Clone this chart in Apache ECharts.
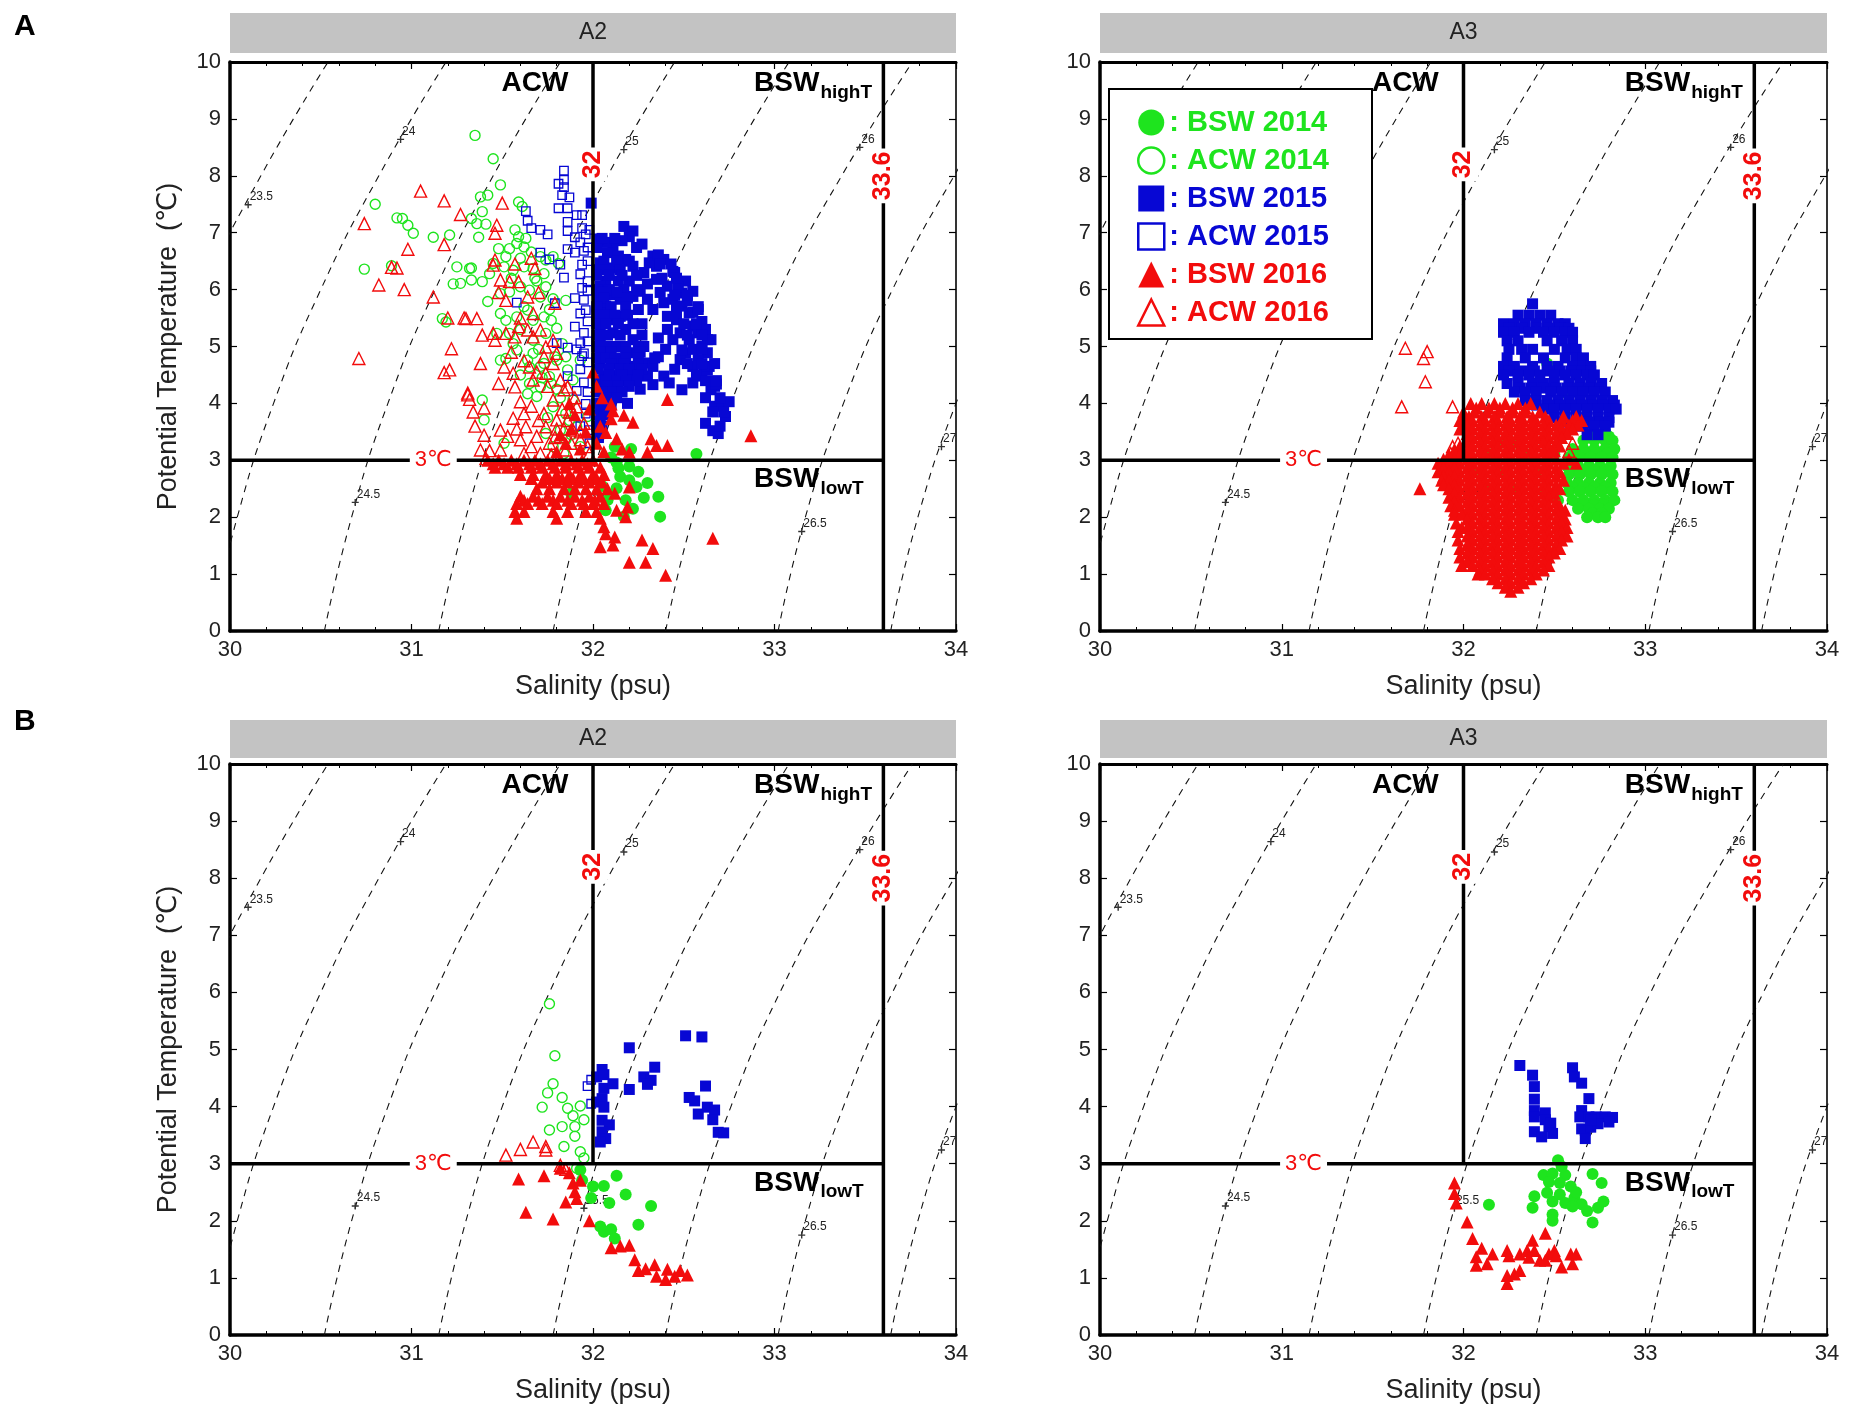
<!DOCTYPE html>
<html>
<head>
<meta charset="utf-8">
<title>T-S diagrams A2 / A3</title>
<script src="https://cdn.jsdelivr.net/npm/echarts@6/dist/echarts.min.js"></script>
<style>
html,body{margin:0;padding:0;background:#fff}
#main{width:1850px;height:1412px}
</style>
</head>
<body>
<div id="main"></div>
<script>
// ---- colours / fonts
var GREEN = '#1ee41e', BLUE = '#0707d4', RED = '#f20c0c';
var FONT = "'Liberation Sans', Arial, 'DejaVu Sans', sans-serif";

// ---- axis ranges
var salRange = [30, 34];
var tempRange = [0, 10];

// ---- isopycnals (sigma-t), salinity read at T = 0,2,4,6,8,10
var sigmaLevels = ['23.5', '24', '24.5', '25', '25.5', '26', '26.5', '27'];
var isoTemps = [0, 2, 4, 6, 8, 10];
var isoSal = [
  [29.24, 29.39, 29.59, 29.85, 30.17, 30.54],
  [29.89, 30.04, 30.24, 30.50, 30.82, 31.19],
  [30.52, 30.67, 30.87, 31.13, 31.45, 31.82],
  [31.15, 31.30, 31.50, 31.76, 32.08, 32.45],
  [31.78, 31.93, 32.13, 32.39, 32.71, 33.08],
  [32.40, 32.55, 32.76, 33.03, 33.37, 33.76],
  [33.02, 33.17, 33.38, 33.65, 33.99, 34.38],
  [33.64, 33.79, 34.00, 34.27, 34.60, 35.00]
];
// label marks on the isopycnals [S, T]
var sigmaMarks = [[30.10, 7.49], [30.94, 8.64], [30.69, 2.26], [32.17, 8.46], [31.95, 2.22], [33.47, 8.50], [33.15, 1.75], [33.92, 3.24]];

// ---- water mass boundaries
var salACW = 32, salBSW = 33.6, tempSplit = 3;

// ---- helper: rows [T, S1, S2, ...] -> [S, T] pairs
function rows(list) {
  var out = [];
  list.forEach(function (r) { for (var k = 1; k < r.length; k++) out.push([r[k], r[0]]); });
  return out;
}

// ================= Panel A, station A2 =================
var aA2_acw2014 = [[31.35,8.71],[31.45,8.30],[31.49,7.84],[31.42,7.66],[31.38,7.63],[31.59,7.54],[31.61,7.46],[31.01,6.99],[30.95,7.25],[30.98,7.13],[31.12,6.92],[31.21,6.96],[31.33,7.25],[31.39,7.37],[31.36,7.16],[31.41,7.15],[31.37,6.92],[31.57,7.05],[31.59,6.93],[31.48,6.72],[31.54,6.72],[31.58,6.81],[31.62,6.75],[31.66,6.66],[31.71,6.58],[31.74,6.52],[31.78,6.58],[31.81,6.46],[31.45,6.46],[31.51,6.40],[31.56,6.34],[31.62,6.40],[31.67,6.37],[31.73,6.28],[31.43,6.28],[31.39,6.14],[31.33,6.17],[31.25,6.40],[31.32,6.37],[31.27,6.11],[31.42,5.79],[31.49,5.93],[31.54,5.96],[31.60,6.05],[31.65,5.99],[31.71,5.87],[31.74,6.05],[31.78,5.84],[31.85,5.81],[31.17,5.49],[31.19,5.43],[31.49,5.58],[31.52,5.46],[31.58,5.52],[31.64,5.64],[31.67,5.46],[31.73,5.52],[31.77,5.46],[31.74,5.23],[31.80,5.32],[31.47,5.23],[31.54,5.23],[31.67,5.11],[31.85,4.82],[31.79,4.82],[31.58,4.94],[31.49,4.76],[31.65,4.64],[31.73,4.70],[31.64,4.17],[31.71,4.29],[31.77,4.35],[31.52,4.79],[31.64,4.76],[31.39,4.06],[31.40,3.71],[31.67,4.88],[31.71,4.65],[31.65,4.35],[31.76,4.47],[31.80,4.76],[31.86,4.59],[31.89,4.41],[31.93,4.76],[31.69,4.12],[31.78,3.94],[31.85,3.82],[31.89,4.06],[31.91,3.59],[31.82,3.53],[31.74,3.47],[31.85,3.36],[31.93,3.24],[31.97,3.77],[31.84,3.12],[31.78,3.24],[31.51,3.30],[30.74,6.36],[30.80,7.50],[30.92,7.26],[30.89,6.42],[31.33,6.38],[31.23,6.10],[31.60,6.55],[31.55,6.20],[31.69,6.15],[31.62,5.70],[31.56,5.05],[31.70,4.95],[31.60,4.50],[31.82,4.10],[31.87,3.70],[31.63,6.90],[31.68,6.20],[31.52,6.58],[31.76,5.65],[31.60,5.30],[31.83,5.05],[31.72,4.45],[31.80,4.25],[31.75,3.75],[31.88,3.45]];
var aA2_bsw2014 = [[32.21,3.20],[32.13,2.96],[32.14,2.86],[32.20,2.89],[32.15,2.71],[32.20,2.65],[32.13,2.51],[32.24,2.53],[32.28,2.34],[32.36,2.36],[32.37,2.01],[32.57,3.11],[32.08,2.30],[31.88,2.42],[32.17,2.01],[32.07,2.12],[32.18,2.30],[32.25,2.80],[32.10,3.05],[32.30,2.60],[32.05,2.55],[32.22,2.15],[32.12,3.24]];
var aA2_acw2015 = [[31.84,8.09],[31.84,7.93],[31.81,7.86],[31.84,7.80],[31.83,7.66],[31.87,7.62],[31.81,7.43],[31.86,7.43],[31.94,7.31],[31.86,7.19],[31.91,7.31],[31.63,7.38],[31.64,7.21],[31.66,7.08],[31.71,7.05],[31.75,6.97],[31.71,6.65],[31.76,6.53],[31.86,7.03],[31.90,6.92],[31.94,7.08],[31.96,6.97],[31.98,7.05],[31.93,6.83],[31.86,6.71],[31.90,6.65],[31.95,6.68],[31.97,6.74],[31.82,6.44],[31.84,6.21],[31.94,6.44],[31.97,6.50],[31.93,6.27],[31.97,6.15],[31.94,6.03],[31.97,5.98],[31.58,5.77],[31.79,5.76],[31.90,5.85],[31.95,5.82],[31.96,5.64],[31.93,5.58],[31.97,5.44],[31.90,5.35],[31.95,5.24],[31.97,5.09],[31.80,5.06],[31.86,4.98],[31.91,4.95],[31.94,4.83],[31.97,4.72],[31.93,4.60],[31.95,4.37],[31.86,4.48],[31.91,4.22],[31.93,5.06],[31.95,4.88],[31.96,3.99],[31.96,3.82],[31.98,3.53],[31.97,4.20],[31.98,3.30],[31.93,3.60]];
var aA2_bsw2015 = [[31.99,7.52],[32.17,7.11],[32.22,7.03],[32.20,6.93],[32.24,6.74],[32.16,6.86],[32.11,6.76],[32.07,6.83],[32.03,6.89],[32.02,6.74],[32.08,6.65],[32.14,6.59],[32.04,6.47],[32.11,6.38],[32.18,6.53],[32.22,6.41],[32.20,6.15],[32.14,6.15],[32.07,6.15],[32.04,6.06],[32.03,5.83],[32.11,5.91],[32.07,5.71],[32.15,5.83],[32.22,5.88],[32.26,5.97],[32.33,6.59],[32.39,6.53],[32.44,6.32],[32.35,6.41],[32.31,6.47],[32.28,6.30],[32.35,6.18],[32.41,6.06],[32.30,5.83],[32.33,5.65],[32.39,5.77],[32.51,6.15],[32.55,5.97],[32.49,5.94],[32.44,5.83],[32.49,5.71],[32.53,5.59],[32.41,5.53],[32.46,5.47],[32.55,5.36],[32.60,5.44],[32.58,5.24],[32.63,5.12],[32.60,5.00],[32.53,5.12],[32.48,5.24],[32.44,5.12],[32.41,5.30],[32.63,4.89],[32.58,4.77],[32.64,4.65],[32.55,4.65],[32.51,4.89],[32.48,4.77],[32.60,4.48],[32.67,4.30],[32.55,4.36],[32.04,5.59],[32.09,5.47],[32.15,5.53],[32.04,5.36],[32.11,5.24],[32.18,5.30],[32.22,5.12],[32.04,5.12],[32.07,4.95],[32.15,5.00],[32.22,4.89],[32.28,5.00],[32.30,4.71],[32.33,4.65],[32.22,4.65],[32.13,4.77],[32.04,4.71],[32.06,4.48],[32.13,4.48],[32.20,4.42],[32.30,4.48],[32.39,4.48],[32.33,4.33],[32.49,4.24],[32.11,4.24],[32.04,4.24],[32.36,4.82],[32.49,4.94],[32.63,4.59],[32.65,4.24],[32.67,3.95],[32.62,3.65],[32.69,3.47],[32.71,4.00],[32.73,3.77],[32.75,4.03],[32.66,3.52],[32.07,4.02],[32.10,3.97],[32.19,4.00],[32.36,6.61],[32.45,6.30],[32.55,5.60],[32.65,5.12],[32.61,4.65],[32.68,4.34],[32.27,6.80],[32.30,6.10],[32.37,5.95],[32.47,6.05],[32.52,5.80],[32.58,5.70],[32.62,5.30],[32.57,4.50],[32.45,4.60],[32.40,4.95],[32.27,5.40],[32.25,5.65],[32.36,5.15],[32.42,4.36],[32.26,4.25]].concat(rows([
  [6.90, 32.05, 32.12],
  [6.50, 32.06, 32.13, 32.20],
  [6.35, 32.02, 32.08, 32.15],
  [6.25, 32.02, 32.09, 32.16, 32.24],
  [6.00, 32.02, 32.09, 32.17, 32.24],
  [5.95, 32.05, 32.13],
  [5.85, 32.06, 32.19],
  [5.70, 32.02, 32.10, 32.18],
  [5.55, 32.02, 32.08, 32.12, 32.19],
  [5.40, 32.02, 32.07, 32.14, 32.22],
  [5.20, 32.02, 32.08, 32.15, 32.27],
  [5.00, 32.02, 32.08, 32.13, 32.18, 32.25],
  [4.90, 32.04, 32.10, 32.18, 32.26],
  [4.80, 32.02, 32.07, 32.12, 32.18, 32.25, 32.34],
  [4.70, 32.10, 32.17, 32.25],
  [4.60, 32.03, 32.09, 32.15, 32.20, 32.27],
  [4.50, 32.09, 32.16, 32.25],
  [4.40, 32.02, 32.07, 32.13, 32.18, 32.24],
  [4.30, 32.08, 32.14, 32.20],
  [4.20, 32.02, 32.06, 32.11, 32.16],
  [4.10, 32.07, 32.13],
  [4.00, 32.02, 32.05],
  [3.90, 32.04, 32.08],
  [3.80, 32.02, 32.06],
  [3.70, 32.04],
  [3.60, 32.02, 32.05],
  [3.40, 32.03],
  [6.45, 32.37, 32.43],
  [6.20, 32.38, 32.46],
  [5.90, 32.45, 32.52],
  [5.65, 32.46, 32.58],
  [5.40, 32.50, 32.57],
  [5.20, 32.52, 32.60],
  [4.95, 32.55, 32.60],
  [4.70, 32.52, 32.60, 32.67],
  [4.40, 32.62, 32.68],
  [4.10, 32.62, 32.70],
  [3.85, 32.66, 32.72],
  [3.60, 32.70]
]));
var aA2_acw2016 = [[30.74,7.16],[31.05,7.73],[31.18,7.56],[31.27,7.32],[31.50,7.52],[31.46,6.99],[31.18,6.79],[30.98,6.71],[30.89,6.39],[30.92,6.38],[30.82,6.08],[30.96,6.00],[31.12,5.87],[31.20,5.50],[31.29,5.50],[31.22,4.96],[31.18,4.54],[31.21,4.59],[30.71,4.79],[31.31,4.18],[31.32,4.07],[31.40,3.92],[31.35,3.60],[31.40,3.44],[31.43,3.17],[31.47,7.13],[31.46,6.52],[31.45,6.43],[31.49,6.17],[31.54,6.14],[31.59,6.14],[31.68,6.37],[31.67,5.58],[31.52,5.81],[31.64,5.87],[31.79,5.76],[31.30,5.49],[31.36,5.49],[31.39,5.20],[31.45,5.23],[31.46,5.11],[31.52,5.23],[31.57,5.17],[31.59,5.35],[31.64,5.29],[31.67,5.17],[31.71,5.29],[31.74,4.99],[31.78,5.11],[31.73,4.82],[31.80,4.88],[31.38,4.70],[31.51,4.64],[31.56,4.53],[31.65,4.64],[31.67,4.41],[31.74,4.53],[31.78,4.70],[31.82,4.41],[31.86,4.29],[31.31,4.15],[31.34,3.85],[31.38,3.18],[31.49,3.18],[31.49,3.53],[31.53,3.42],[31.56,3.74],[31.60,4.03],[31.48,4.35],[31.57,4.29],[31.62,3.82],[31.63,3.59],[31.60,3.36],[31.66,3.24],[31.71,3.12],[31.62,3.12],[31.41,3.03],[31.77,3.09],[31.69,3.42],[31.74,3.59],[31.73,3.82],[31.78,4.06],[31.80,3.71],[31.82,3.42],[31.85,3.18],[31.89,3.53],[31.93,3.36],[31.97,3.24],[31.84,4.24],[31.91,3.94],[31.95,3.65],[31.98,3.12],[31.76,3.30],[31.80,3.55],[31.86,3.70],[31.88,3.30],[31.83,3.90],[31.90,4.10],[31.70,3.70],[31.66,3.95],[31.58,3.55],[31.75,4.30],[31.69,4.55],[31.62,4.75],[31.55,4.90],[31.60,5.50],[31.70,5.95],[31.66,6.55],[31.48,5.95],[31.57,6.45],[31.79,3.40],[31.84,3.55],[31.87,3.85],[31.93,3.50]];
var aA2_bsw2016 = rows([
  [3.00, 31.42, 31.48, 31.55, 31.62, 31.68, 31.75, 31.82, 31.88, 31.94, 32.00],
  [2.94, 31.45, 31.51, 31.58, 31.65, 31.71, 31.78, 31.85, 31.91, 31.97],
  [2.88, 31.46, 31.53, 31.59, 31.66, 31.72, 31.79, 31.85, 31.92, 31.98, 32.04],
  [2.75, 31.60, 31.67, 31.74, 31.80, 31.87, 31.93, 32.00, 32.06],
  [2.68, 31.66, 31.76, 31.83, 31.89, 31.95, 32.02],
  [2.62, 31.72, 31.80, 31.86, 31.92, 31.98, 32.05],
  [2.50, 31.69, 31.76, 31.84, 31.90, 31.96, 32.02, 32.08],
  [2.37, 31.60, 31.67, 31.75, 31.82, 31.90, 31.98, 32.04],
  [2.30, 31.62, 31.70, 31.78, 31.86, 31.94, 32.01],
  [2.24, 31.58, 31.64, 31.72, 31.80, 31.88, 31.95, 32.00, 32.06],
  [2.10, 31.57, 31.62, 31.78, 31.86, 31.96, 32.02],
  [1.98, 31.58, 31.80, 32.04]
]).concat([[32.12,2.42],[32.13,2.12],[32.19,2.18],[32.18,2.01],[32.20,2.53],[32.06,1.83],[32.07,1.71],[32.12,1.65],[32.04,1.48],[32.11,1.51],[32.27,1.60],[32.33,1.45],[32.20,1.21],[32.29,1.21],[32.40,0.98],[32.66,1.63],[32.87,3.43],[32.41,4.07],[32.10,3.99],[32.11,3.87],[32.17,3.79],[32.22,3.67],[32.20,3.14],[32.32,3.38],[32.35,3.26],[32.41,3.26],[32.30,3.14],[32.07,3.49],[32.13,3.38],[32.16,3.20],[32.10,3.73],[32.04,3.60],[32.02,3.30],[32.05,4.10],[32.02,4.30],[32.00,4.55],[32.06,3.15],[31.98,3.90],[31.96,3.50],[31.85,3.30],[31.88,3.55],[31.90,3.80],[31.82,3.45],[31.93,3.20],[31.80,3.15],[31.87,4.00]]);

// ================= Panel A, station A3 =================
var aA3_bsw2014 = rows([
  [3.50, 32.72, 32.78],
  [3.42, 32.69, 32.75, 32.80],
  [3.35, 32.66, 32.72, 32.78, 32.82],
  [3.20, 32.60, 32.66, 32.72, 32.78, 32.83],
  [3.12, 32.61, 32.67, 32.73, 32.79],
  [3.05, 32.58, 32.64, 32.70, 32.76, 32.82],
  [2.90, 32.57, 32.63, 32.69, 32.75, 32.81],
  [2.82, 32.60, 32.66, 32.72, 32.78],
  [2.75, 32.58, 32.64, 32.70, 32.76, 32.82],
  [2.60, 32.57, 32.63, 32.69, 32.75, 32.81],
  [2.52, 32.60, 32.66, 32.72, 32.78],
  [2.45, 32.58, 32.64, 32.70, 32.76, 32.82],
  [2.30, 32.60, 32.66, 32.72, 32.78, 32.83],
  [2.22, 32.66, 32.72, 32.77],
  [2.15, 32.63, 32.69, 32.75, 32.80],
  [2.07, 32.71, 32.76],
  [2.00, 32.68, 32.74, 32.78]
]).concat([[32.20,3.30],[32.30,3.30],[32.45,3.30],[32.15,3.10],[32.35,3.10],[32.50,3.10],[32.05,2.80],[32.20,2.80],[32.40,2.80],[32.12,2.50],[32.30,2.50],[32.45,2.50],[32.52,2.30],[32.46,4.70],[32.55,4.20]]);
var aA3_bsw2015 = rows([
  [5.75, 32.38],
  [5.55, 32.30, 32.36, 32.42, 32.48],
  [5.40, 32.22, 32.28, 32.34, 32.40, 32.46, 32.52, 32.56],
  [5.32, 32.25, 32.32, 32.40, 32.47, 32.53, 32.58],
  [5.25, 32.22, 32.28, 32.36, 32.44, 32.50, 32.56, 32.60],
  [5.10, 32.24, 32.30, 32.46, 32.54, 32.60],
  [4.95, 32.25, 32.32, 32.38, 32.50, 32.57, 32.62],
  [4.80, 32.24, 32.34, 32.44, 32.56, 32.62, 32.66],
  [4.65, 32.22, 32.28, 32.38, 32.46, 32.52, 32.60, 32.66, 32.70],
  [4.57, 32.25, 32.33, 32.39, 32.47, 32.53, 32.59, 32.65, 32.70],
  [4.50, 32.22, 32.30, 32.36, 32.42, 32.50, 32.56, 32.62, 32.68, 32.72],
  [4.35, 32.24, 32.30, 32.38, 32.44, 32.50, 32.58, 32.64, 32.70, 32.76],
  [4.27, 32.31, 32.37, 32.44, 32.51, 32.57, 32.63, 32.69, 32.75],
  [4.20, 32.28, 32.34, 32.40, 32.48, 32.54, 32.60, 32.66, 32.72, 32.78],
  [4.05, 32.34, 32.40, 32.46, 32.52, 32.58, 32.64, 32.70, 32.76, 32.82],
  [3.97, 32.40, 32.47, 32.53, 32.59, 32.65, 32.71, 32.77, 32.83],
  [3.90, 32.44, 32.50, 32.56, 32.62, 32.68, 32.74, 32.80, 32.84],
  [3.75, 32.50, 32.56, 32.62, 32.68, 32.74, 32.80],
  [3.67, 32.55, 32.63, 32.69, 32.75, 32.80],
  [3.60, 32.60, 32.66, 32.72, 32.78],
  [3.45, 32.68, 32.74]
]);
var aA3_acw2016 = [[31.68,4.97],[31.80,4.91],[31.78,4.79],[31.79,4.38],[31.66,3.94],[31.94,3.94],[31.94,3.24],[31.93,3.12],[31.97,3.30],[32.60,3.30],[32.58,3.16],[32.45,3.45]];
var aA3_bsw2016 = rows([
  [4.00, 32.04, 32.10, 32.17, 32.23, 32.30, 32.37],
  [3.92, 32.07, 32.14, 32.20, 32.27, 32.34],
  [3.85, 32.00, 32.06, 32.13, 32.20, 32.27, 32.34, 32.42],
  [3.77, 32.03, 32.10, 32.17, 32.24, 32.31, 32.38, 32.45, 32.55, 32.62],
  [3.70, 31.98, 32.05, 32.12, 32.19, 32.26, 32.33, 32.40, 32.47, 32.54, 32.60, 32.65],
  [3.62, 32.02, 32.09, 32.16, 32.23, 32.30, 32.37, 32.44, 32.51, 32.58, 32.63],
  [3.55, 31.98, 32.05, 32.12, 32.19, 32.26, 32.33, 32.40, 32.47, 32.54, 32.60],
  [3.47, 32.02, 32.09, 32.16, 32.23, 32.30, 32.37, 32.44, 32.51, 32.57],
  [3.40, 32.05, 32.12, 32.19, 32.26, 32.33, 32.40, 32.47, 32.54],
  [3.32, 32.02, 32.09, 32.16, 32.23, 32.30, 32.37, 32.44, 32.51],
  [3.25, 31.98, 32.05, 32.12, 32.19, 32.26, 32.33, 32.40, 32.47, 32.53],
  [3.17, 31.95, 32.02, 32.09, 32.16, 32.23, 32.30, 32.37, 32.44, 32.50],
  [3.10, 31.92, 31.98, 32.05, 32.12, 32.19, 32.26, 32.33, 32.40, 32.47],
  [3.02, 31.89, 31.95, 32.02, 32.09, 32.16, 32.23, 32.30, 32.37, 32.44, 32.51, 32.58],
  [2.95, 31.86, 31.92, 31.98, 32.05, 32.12, 32.19, 32.26, 32.33, 32.40, 32.47, 32.55, 32.62],
  [2.87, 31.89, 31.95, 32.02, 32.09, 32.16, 32.23, 32.30, 32.37, 32.44, 32.51],
  [2.80, 31.86, 31.92, 31.98, 32.05, 32.12, 32.19, 32.26, 32.33, 32.40, 32.47, 32.53],
  [2.72, 31.89, 31.95, 32.02, 32.09, 32.16, 32.23, 32.30, 32.37, 32.44, 32.51],
  [2.65, 31.88, 31.92, 31.98, 32.05, 32.12, 32.19, 32.26, 32.33, 32.40, 32.47, 32.55],
  [2.57, 31.89, 31.95, 32.02, 32.09, 32.16, 32.23, 32.30, 32.37, 32.44, 32.51],
  [2.50, 31.76, 31.92, 31.98, 32.05, 32.12, 32.19, 32.26, 32.33, 32.40, 32.47, 32.53],
  [2.42, 31.95, 32.02, 32.09, 32.16, 32.23, 32.30, 32.37, 32.44, 32.50],
  [2.35, 31.92, 31.98, 32.05, 32.12, 32.19, 32.26, 32.33, 32.40, 32.47],
  [2.27, 31.95, 32.02, 32.09, 32.16, 32.23, 32.30, 32.37, 32.44, 32.51],
  [2.20, 31.93, 31.98, 32.05, 32.12, 32.19, 32.26, 32.33, 32.40, 32.47, 32.53],
  [2.12, 31.95, 32.02, 32.09, 32.16, 32.23, 32.30, 32.37, 32.44, 32.51, 32.56],
  [2.05, 31.95, 31.99, 32.05, 32.12, 32.19, 32.26, 32.33, 32.40, 32.47, 32.54],
  [1.97, 32.02, 32.09, 32.16, 32.23, 32.30, 32.37, 32.44, 32.51, 32.56],
  [1.90, 31.96, 32.05, 32.12, 32.19, 32.26, 32.33, 32.40, 32.47, 32.54],
  [1.82, 31.99, 32.02, 32.09, 32.16, 32.23, 32.30, 32.37, 32.44, 32.51, 32.57],
  [1.75, 31.97, 32.05, 32.12, 32.19, 32.26, 32.33, 32.40, 32.47, 32.54],
  [1.67, 32.02, 32.09, 32.16, 32.23, 32.30, 32.37, 32.44, 32.51, 32.57],
  [1.60, 31.97, 32.05, 32.12, 32.19, 32.26, 32.33, 32.40, 32.47, 32.54],
  [1.52, 32.02, 32.09, 32.16, 32.23, 32.30, 32.37, 32.44, 32.51],
  [1.45, 31.98, 32.05, 32.12, 32.19, 32.26, 32.33, 32.40, 32.47, 32.53],
  [1.37, 32.02, 32.09, 32.16, 32.23, 32.30, 32.37, 32.44, 32.50],
  [1.30, 31.98, 32.05, 32.12, 32.19, 32.26, 32.33, 32.40, 32.47],
  [1.22, 32.02, 32.09, 32.16, 32.23, 32.30, 32.37, 32.44],
  [1.15, 31.99, 32.05, 32.12, 32.19, 32.26, 32.33, 32.40, 32.47],
  [1.07, 32.09, 32.16, 32.23, 32.30, 32.37, 32.44],
  [1.00, 32.08, 32.12, 32.19, 32.26, 32.33, 32.40],
  [0.92, 32.16, 32.23, 32.30, 32.37],
  [0.85, 32.19, 32.26, 32.33],
  [0.77, 32.23, 32.30],
  [0.70, 32.26]
]);

// ================= Panel B, station A2 =================
var bA2_acw2014 = [[31.76,5.80],[31.79,4.89],[31.78,4.40],[31.75,4.24],[31.83,4.16],[31.72,3.99],[31.86,3.97],[31.93,4.01],[31.89,3.84],[31.95,3.77],[31.90,3.65],[31.76,3.59],[31.83,3.65],[31.90,3.48],[31.84,3.30],[31.93,3.21],[31.95,3.10],[31.91,2.92]];
var bA2_bsw2014 = [[31.93,2.89],[31.94,2.71],[32.00,2.60],[32.06,2.61],[32.13,2.79],[32.18,2.46],[32.09,2.31],[31.99,2.40],[32.32,2.26],[32.25,1.93],[32.04,1.90],[32.06,1.81],[32.10,1.85],[32.12,1.69]];
var bA2_acw2015 = [[31.97,4.36],[31.99,4.47],[31.99,4.05]];
var bA2_bsw2015 = [[32.05,4.65],[32.02,4.52],[32.06,4.56],[32.06,4.32],[32.11,4.40],[32.20,5.03],[32.20,4.30],[32.28,4.52],[32.32,4.46],[32.30,4.39],[32.34,4.69],[32.51,5.24],[32.60,5.22],[32.62,4.36],[32.53,4.16],[32.56,4.10],[32.58,3.87],[32.63,3.99],[32.67,3.94],[32.66,3.77],[32.69,3.55],[32.72,3.54],[32.02,4.08],[32.05,4.14],[32.06,3.99],[32.05,3.76],[32.09,3.68],[32.05,3.56],[32.07,3.44],[32.04,3.38]];
var bA2_acw2016 = [[31.52,3.15],[31.60,3.25],[31.67,3.38],[31.74,3.24],[31.74,3.30],[31.82,2.97],[31.85,2.90]];
var bA2_bsw2016 = [[31.59,2.73],[31.73,2.79],[31.82,2.92],[31.87,2.84],[31.89,2.66],[31.93,2.71],[31.90,2.51],[31.91,2.39],[31.85,2.33],[31.63,2.15],[31.78,2.03],[31.98,2.00],[32.10,1.53],[32.15,1.56],[32.20,1.57],[32.23,1.32],[32.25,1.13],[32.29,1.16],[32.34,1.23],[32.35,1.03],[32.41,1.15],[32.40,0.97],[32.45,1.03],[32.48,1.13],[32.52,1.05]];

// ================= Panel B, station A3 =================
var bA3_bsw2014 = [[32.14,2.28],[32.52,3.06],[32.44,2.80],[32.49,2.83],[32.56,2.80],[32.53,2.66],[32.47,2.68],[32.71,2.82],[32.76,2.66],[32.39,2.43],[32.38,2.23],[32.49,2.34],[32.53,2.46],[32.56,2.31],[32.61,2.40],[32.65,2.29],[32.68,2.17],[32.74,2.23],[32.77,2.34],[32.49,2.11],[32.49,2.00],[32.71,1.97],[32.60,2.25],[32.46,2.49],[32.59,2.60],[32.54,2.95],[32.62,2.50]];
var bA3_bsw2015 = [[32.31,4.72],[32.38,4.55],[32.39,4.35],[32.39,4.13],[32.39,3.93],[32.39,3.82],[32.45,3.89],[32.45,3.77],[32.47,3.65],[32.48,3.71],[32.39,3.56],[32.43,3.47],[32.49,3.53],[32.60,4.68],[32.61,4.52],[32.65,4.41],[32.69,4.14],[32.65,3.93],[32.64,3.82],[32.69,3.82],[32.73,3.82],[32.78,3.82],[32.82,3.81],[32.80,3.73],[32.65,3.61],[32.67,3.58],[32.70,3.64],[32.74,3.70],[32.67,3.44],[32.70,3.76]];
var bA3_bsw2016 = [[31.95,2.66],[31.95,2.48],[31.96,2.31],[32.02,1.98],[32.05,1.69],[32.10,1.52],[32.07,1.37],[32.13,1.25],[32.07,1.22],[32.16,1.42],[32.24,1.48],[32.25,1.39],[32.24,1.04],[32.24,0.90],[32.28,1.07],[32.31,1.13],[32.31,1.42],[32.35,1.48],[32.38,1.66],[32.39,1.48],[32.36,1.36],[32.42,1.31],[32.45,1.78],[32.47,1.42],[32.50,1.48],[32.51,1.39],[32.54,1.19],[32.59,1.42],[32.62,1.42],[32.60,1.25],[32.45,1.31]];

// ---- per-panel data in drawing order
var classNames = ['ACW 2014', 'BSW 2014', 'ACW 2015', 'BSW 2015', 'ACW 2016', 'BSW 2016'];
var panelData = [
  [aA2_acw2014, aA2_bsw2014, aA2_acw2015, aA2_bsw2015, aA2_acw2016, aA2_bsw2016],
  [[], aA3_bsw2014, [], aA3_bsw2015, aA3_acw2016, aA3_bsw2016],
  [bA2_acw2014, bA2_bsw2014, bA2_acw2015, bA2_bsw2015, bA2_acw2016, bA2_bsw2016],
  [[], bA3_bsw2014, [], bA3_bsw2015, [], bA3_bsw2016]
];
var panelTitles = ['A2', 'A3', 'A2', 'A3'];

var NONE = 'rgba(0,0,0,0)';
var classStyle = {
  'BSW 2014': { symbol: 'circle', symbolSize: 12, itemStyle: { color: GREEN, opacity: 1 } },
  'ACW 2014': { symbol: 'circle', symbolSize: 10, itemStyle: { color: NONE, borderColor: GREEN, borderWidth: 1.4, opacity: 1 } },
  'BSW 2015': { symbol: 'rect', symbolSize: 11, itemStyle: { color: BLUE, opacity: 1 } },
  'ACW 2015': { symbol: 'rect', symbolSize: 8.5, itemStyle: { color: NONE, borderColor: BLUE, borderWidth: 1.3, opacity: 1 } },
  'BSW 2016': { symbol: 'triangle', symbolSize: 13, itemStyle: { color: RED, opacity: 1 } },
  'ACW 2016': { symbol: 'triangle', symbolSize: 12, itemStyle: { color: NONE, borderColor: RED, borderWidth: 1.4, opacity: 1 } }
};

// ---- layout
var grids = [
  { left: 230, top: 62, width: 726, height: 569 },
  { left: 1100, top: 62, width: 727, height: 569 },
  { left: 230, top: 764, width: 726, height: 571 },
  { left: 1100, top: 764, width: 727, height: 571 }
];

var myChart = echarts.init(document.getElementById('main'));

var xAxes = [], yAxes = [], series = [];
grids.forEach(function (g, i) {
  var tick = { show: true, inside: true, length: 7, lineStyle: { color: '#000', width: 1.2 } };
  var minor = { show: true, splitNumber: 5, length: 4, lineStyle: { color: '#000', width: 1 } };
  xAxes.push({
    gridIndex: i, type: 'value', min: salRange[0], max: salRange[1], interval: 1, position: 'bottom',
    axisLine: { onZero: false, lineStyle: { color: '#000', width: 3.5 } },
    axisTick: tick, minorTick: minor, splitLine: { show: false },
    axisLabel: { fontSize: 22, color: '#222', margin: 8, fontFamily: FONT },
    name: 'Salinity (psu)', nameLocation: 'middle', nameGap: 42,
    nameTextStyle: { fontSize: 27, color: '#222', fontFamily: FONT }
  });
  xAxes.push({
    gridIndex: i, type: 'value', min: salRange[0], max: salRange[1], interval: 1, position: 'top',
    axisLine: { onZero: false, lineStyle: { color: '#000', width: 3 } },
    axisTick: tick, minorTick: minor, splitLine: { show: false }, axisLabel: { show: false }
  });
  var yLeft = {
    gridIndex: i, type: 'value', min: tempRange[0], max: tempRange[1], interval: 1, position: 'left',
    axisLine: { onZero: false, lineStyle: { color: '#000', width: 3.5 } },
    axisTick: tick, splitLine: { show: false },
    axisLabel: { fontSize: 22, color: '#222', margin: 9, fontFamily: FONT }
  };
  if (i % 2 === 0) {
    yLeft.name = 'Potential Temperature  (\u2103)';
    yLeft.nameLocation = 'middle';
    yLeft.nameGap = 48;
    yLeft.nameRotate = 90;
    yLeft.nameTextStyle = { fontSize: 27, color: '#222', fontFamily: FONT };
  }
  yAxes.push(yLeft);
  yAxes.push({
    gridIndex: i, type: 'value', min: tempRange[0], max: tempRange[1], interval: 1, position: 'right',
    axisLine: { onZero: false, lineStyle: { color: '#000', width: 1.6 } },
    axisTick: tick, splitLine: { show: false }, axisLabel: { show: false }
  });

  var xi = 2 * i, yi = 2 * i;

  // isopycnals
  isoSal.forEach(function (line, j) {
    series.push({
      type: 'line', xAxisIndex: xi, yAxisIndex: yi, silent: true, z: 1,
      smooth: true, showSymbol: false, symbol: 'none', clip: true,
      lineStyle: { color: '#111', width: 1.1, type: [7, 6] },
      data: isoTemps.map(function (t, k) { return [line[k], t]; })
    });
  });
  // isopycnal marks
  series.push({
    type: 'scatter', xAxisIndex: xi, yAxisIndex: yi, silent: true, z: 1, clip: false,
    symbol: 'path://M4,0H6V10H4ZM0,4H10V6H0Z', symbolSize: 7, itemStyle: { color: '#333', opacity: 1 },
    label: { show: true, position: 'right', distance: 0, offset: [-2, -8], fontSize: 12, color: '#222', fontFamily: FONT, formatter: '{b}' },
    data: sigmaMarks.map(function (p, j) { return { name: sigmaLevels[j], value: p }; })
  });

  // observations
  classNames.forEach(function (nm, c) {
    var st = classStyle[nm];
    series.push({
      name: nm, type: 'scatter', xAxisIndex: xi, yAxisIndex: yi, z: 2, silent: true,
      symbol: st.symbol, symbolSize: st.symbolSize, itemStyle: st.itemStyle,
      data: panelData[i][c]
    });
  });

  // water mass boundaries
  [[[salACW, tempSplit], [salACW, tempRange[1]]],
   [[salBSW, tempRange[0]], [salBSW, tempRange[1]]],
   [[salRange[0], tempSplit], [salBSW, tempSplit]]].forEach(function (seg) {
    series.push({
      type: 'line', xAxisIndex: xi, yAxisIndex: yi, silent: true, z: 5, symbol: 'none',
      lineStyle: { color: '#000', width: 3.5, opacity: 1 }, data: seg
    });
  });

  // boundary labels (white background cuts the line)
  var redLab = { color: RED, fontFamily: FONT, backgroundColor: '#fff', position: 'inside' };
  series.push({
    type: 'scatter', xAxisIndex: xi, yAxisIndex: yi, silent: true, z: 6, symbolSize: 1,
    itemStyle: { color: NONE, opacity: 1 },
    label: { show: true, formatter: '{b}' },
    data: [
      { name: '32', value: [salACW, 8.2], label: Object.assign({ rotate: 90, fontSize: 25, fontWeight: 'bold', padding: [2, 3] }, redLab) },
      { name: '33.6', value: [salBSW, 8.0], label: Object.assign({ rotate: 90, fontSize: 25, fontWeight: 'bold', padding: [2, 3] }, redLab) },
      { name: '3\u2103', value: [31.12, tempSplit], label: Object.assign({ fontSize: 22, padding: [1, 5] }, redLab) }
    ]
  });

  // water mass names
  var big = { fontSize: 28, fontWeight: 'bold', color: '#000', fontFamily: FONT };
  var sub = { fontSize: 19, fontWeight: 'bold', color: '#000', fontFamily: FONT };
  series.push({
    type: 'scatter', xAxisIndex: xi, yAxisIndex: yi, silent: true, z: 7, symbolSize: 1,
    itemStyle: { color: NONE, opacity: 1 },
    label: { show: true, formatter: '{b}' },
    data: [
      { name: 'ACW', value: [31.68, 9.62], label: Object.assign({ position: 'inside' }, big) },
      { name: 'BSW', value: [33.25, 9.62], label: Object.assign({ position: 'left', distance: 0 }, big) },
      { name: 'highT', value: [33.25, 9.62], label: Object.assign({ position: 'right', distance: 0, offset: [0, 9] }, sub) },
      { name: 'BSW', value: [33.25, 2.66], label: Object.assign({ position: 'left', distance: 0 }, big) },
      { name: 'lowT', value: [33.25, 2.66], label: Object.assign({ position: 'right', distance: 0, offset: [0, 9] }, sub) }
    ]
  });
});

// ---- title bars and panel letters
var graphics = [];
grids.forEach(function (g, i) {
  var top = i < 2 ? 13 : 720;
  var h = i < 2 ? 40 : 38;
  graphics.push({
    type: 'rect', shape: { x: g.left, y: top, width: g.width, height: h },
    style: { fill: '#c3c3c3' }, z: 0
  });
  graphics.push({
    type: 'text', x: g.left + g.width / 2, y: top + h / 2,
    style: { text: panelTitles[i], fontSize: 23, fill: '#222', fontFamily: FONT, align: 'center', verticalAlign: 'middle' }
  });
});
graphics.push({ type: 'text', x: 14, y: 12, style: { text: 'A', fontSize: 30, fontWeight: 'bold', fill: '#000', fontFamily: FONT } });
graphics.push({ type: 'text', x: 14, y: 707, style: { text: 'B', fontSize: 30, fontWeight: 'bold', fill: '#000', fontFamily: FONT } });
// legend frame inside A3
graphics.push({
  type: 'rect', shape: { x: 1109, y: 89, width: 263, height: 250 },
  style: { fill: '#fff', stroke: '#000', lineWidth: 2 }, z: 3
});

function legItem(name, icon, color, open) {
  var it = { name: name, icon: icon, textStyle: { color: color } };
  if (open) it.itemStyle = { color: '#fff', borderColor: color, borderWidth: 2.5, opacity: 1 };
  else it.itemStyle = { color: color, borderWidth: 0, opacity: 1 };
  return it;
}

var option = {
  animation: false,
  backgroundColor: '#fff',
  grid: grids.map(function (g) { return Object.assign({ containLabel: false }, g); }),
  xAxis: xAxes,
  yAxis: yAxes,
  legend: {
    left: 1132, top: 103, orient: 'vertical', itemGap: 9, itemWidth: 26, itemHeight: 26,
    selectedMode: false, z: 10, formatter: ': {name}',
    textStyle: { fontSize: 29, fontWeight: 'bold', fontFamily: FONT },
    data: [
      legItem('BSW 2014', 'circle', GREEN, false),
      legItem('ACW 2014', 'circle', GREEN, true),
      legItem('BSW 2015', 'rect', BLUE, false),
      legItem('ACW 2015', 'rect', BLUE, true),
      legItem('BSW 2016', 'triangle', RED, false),
      legItem('ACW 2016', 'triangle', RED, true)
    ]
  },
  graphic: graphics,
  series: series
};

myChart.setOption(option);
window.onresize = function () { myChart.resize(); };
</script>
</body>
</html>
